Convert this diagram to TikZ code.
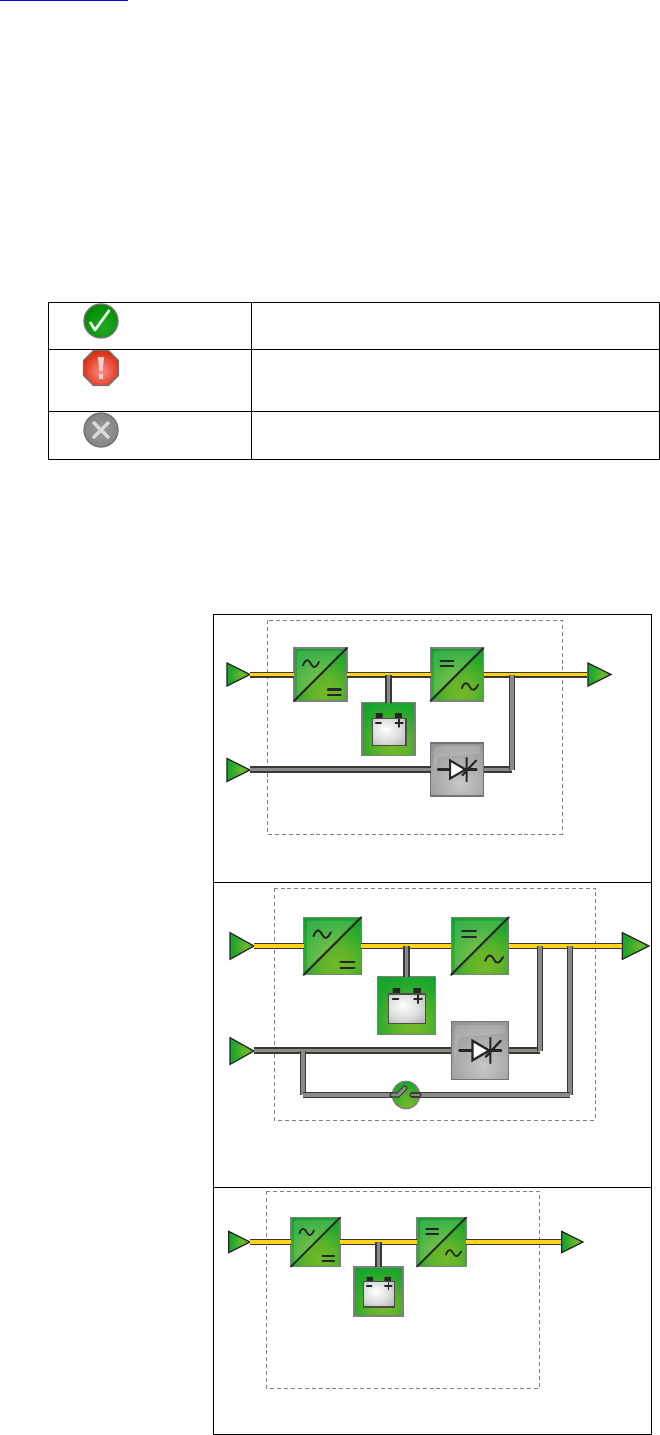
\documentclass[tikz,border=0pt]{standalone}
\usetikzlibrary{shapes.geometric}
\definecolor{bluelink}{HTML}{0000F0}
\definecolor{gdark}{HTML}{0A9A35}
\definecolor{gmid}{HTML}{22A82C}
\definecolor{glime}{HTML}{74B82A}
\definecolor{edgegray}{HTML}{7A827A}
\definecolor{busyellow}{HTML}{FFD21E}
\definecolor{busdark}{HTML}{3A3A32}
\definecolor{busgray}{HTML}{8A8A8A}
\pgfdeclareradialshading{gblock}{\pgfpoint{5bp}{-18bp}}{color(0bp)=(glime); color(14bp)=(glime!75!gmid); color(32bp)=(gmid); color(50bp)=(gdark); color(100bp)=(gdark)}
\pgfdeclareradialshading{gyblock}{\pgfpoint{3bp}{-14bp}}{color(0bp)=(black!22); color(20bp)=(black!32); color(50bp)=(black!48); color(100bp)=(black!48)}
\pgfdeclareradialshading{batt}{\pgfpoint{-6bp}{6bp}}{color(0bp)=(white); color(22bp)=(black!14); color(50bp)=(black!42); color(100bp)=(black!42)}
\pgfdeclareradialshading{gtri}{\pgfpoint{8bp}{0bp}}{color(0bp)=(glime); color(25bp)=(gmid); color(50bp)=(gdark); color(100bp)=(gdark)}
\pgfdeclareradialshading{okicon}{\pgfpoint{4bp}{-10bp}}{color(0bp)=(green!60!black!85!white); color(30bp)=(green!55!black); color(50bp)=(green!35!black); color(100bp)=(green!35!black)}
\pgfdeclareradialshading{stopicon}{\pgfpoint{0bp}{-5bp}}{color(0bp)=(red!45!white); color(30bp)=(red!65!orange!85!black); color(50bp)=(red!45!black); color(100bp)=(red!45!black)}
\pgfdeclareradialshading{xicon}{\pgfpoint{0bp}{0bp}}{color(0bp)=(black!40); color(32bp)=(black!50); color(50bp)=(black!75); color(100bp)=(black!75)}
\tikzset{
  x=0.75pt,y=-0.75pt,
  frame/.style={draw=black,line width=0.75pt,fill=none},
  dashbox/.style={draw=black!50,line width=0.6pt,dash pattern=on 3pt off 2.2pt},
  grn/.style={draw=edgegray,line width=1pt,shading=gblock,inner sep=0pt,outer sep=0pt},
  gry/.style={draw=black!55,line width=1pt,shading=gyblock,inner sep=0pt,outer sep=0pt},
  tri/.style={shape=isosceles triangle,isosceles triangle stretches,draw=black!85,line width=0.9pt,shading=gtri,inner sep=0pt,outer sep=0pt,anchor=apex},
  ybus/.style={draw=busdark,line width=0.8pt,double=busyellow,double distance=2.9pt},
  gbus/.style={draw=busdark,line width=1pt,double=busgray,double distance=2.6pt},
  glyph/.style={draw=black!85,line width=#1,line cap=round},
  glyph/.default=1pt,
  icon/.style={circle,minimum size=25.5pt,inner sep=0pt,draw=black!55,line width=1pt},
}
% #1 name, #2 x, #3 y, #4 size, #5 1=AC-in 2=DC-in
\newcommand{\conv}[5]{%
  \node[grn,minimum size=#4*0.75pt] (#1) at (#2,#3) {};
  \begin{scope}[shift={(#1.center)},x=#4*0.0075pt,y=-#4*0.0075pt]
    \draw[draw=none,fill=white,opacity=.14] (-44,40) -- (-44,-38) .. controls (-44,-44) .. (-38,-44) -- (40,-44) -- cycle;
    \draw[glyph={#4*0.027pt}] (-50,50) -- (50,-50);
    \ifnum#5=1
      \draw[glyph={#4*0.025pt}] (-33,-17) .. controls (-28,-32) and (-22,-28) .. (-18,-20) .. controls (-14,-11) and (-8,-12) .. (-3,-24);
      \draw[glyph={#4*0.033pt}] (14,28) -- (38,28) (14,38) -- (38,38);
    \else
      \draw[glyph={#4*0.033pt}] (-31,-26) -- (-7,-26) (-31,-16) -- (-7,-16);
      \draw[glyph={#4*0.025pt}] (9,26) .. controls (14,12) and (20,15) .. (24,23) .. controls (28,32) and (34,31) .. (40,19);
    \fi
  \end{scope}}
\newcommand{\battery}[4]{%
  \node[grn,minimum size=#4*0.75pt] (#1) at (#2,#3) {};
  \begin{scope}[shift={(#1.center)},x=#4*0.0075pt,y=-#4*0.0075pt]
    \fill[black!85] (-24,-30) rectangle (-11,-20) (12,-30) rectangle (25,-20);
    \node[draw=black!70,line width=0.9pt,shading=batt,minimum width=#4*0.48pt,minimum height=#4*0.385pt,inner sep=0pt,anchor=north west] (#1body) at (-32,-21) {};
    \draw[glyph={#4*0.024pt}] (-24,-11) -- (-14,-11) (13,-11) -- (27,-11) (20,-18) -- (20,-4);
  \end{scope}}
\newcommand{\diode}[4]{%
  \node[gry,minimum size=#4*0.75pt] (#1) at (#2,#3) {};
  \begin{scope}[shift={(#1.center)},x=#4*0.0075pt,y=-#4*0.0075pt]
    \draw[draw=none,fill=white,opacity=.15] (-44,25) -- (-44,-30) .. controls (-44,-44) .. (-28,-44) -- (44,-44) -- (44,-30) -- (-30,-24) .. controls (-38,-22) .. (-44,25);
    \draw[glyph={#4*0.029pt}] (-36,0) -- (37,0);
    \draw[glyph={#4*0.029pt},fill=white] (-13,-17) -- (-13,17) -- (16,0) -- cycle;
    \draw[glyph={#4*0.029pt}] (18,-22) -- (18,22) (10,11) -- (36,-17);
  \end{scope}}
\begin{document}
\begin{tikzpicture}
\useasboundingbox (0,0) rectangle (660,1435);
% link underline
\coordinate (la) at (0,0.6); \coordinate (lb) at (128,0.6);
\draw[bluelink,line width=0.8pt] (la) -- (lb);
% table
\coordinate (ttl) at (48,302); \coordinate (tbr) at (659.5,459);
\coordinate (ta) at (251,302); \coordinate (tb) at (251,459);
\coordinate (r1l) at (48,349); \coordinate (r1r) at (659.5,349);
\coordinate (r2l) at (48,411); \coordinate (r2r) at (659.5,411);
\draw[frame] (ttl) rectangle (tbr);
\draw[frame] (ta) -- (tb) (r1l) -- (r1r) (r2l) -- (r2r);
% status icons
\node[icon,shading=okicon] (iok) at (101,321) {};
\draw[white!90!green,line width=2pt,line join=round] ([shift={(-11,1)}]iok.center) -- ([shift={(-6,9)}]iok.center) -- ([shift={(8.5,-11)}]iok.center);
\node[regular polygon,regular polygon sides=8,minimum size=28.5pt,inner sep=0pt,draw=black!55,line width=1pt,shading=stopicon] (istop) at (101,368) {};
\fill[white!82!red] ([shift={(-3,-11)}]istop.center) -- ([shift={(3,-11)}]istop.center) -- ([shift={(1.6,3)}]istop.center) -- ([shift={(-1.6,3)}]istop.center) -- cycle;
\fill[white!82!red] ([shift={(-2.2,6)}]istop.center) rectangle ([shift={(2.2,11)}]istop.center);
\node[icon,shading=xicon] (ix) at (101,430) {};
\draw[white!85!black,line width=2.6pt] ([shift={(-8,-8)}]ix.center) -- ([shift={(8,8)}]ix.center) ([shift={(-8,8)}]ix.center) -- ([shift={(8,-8)}]ix.center);
% frames
\coordinate (f0) at (213,614); \coordinate (f1) at (651,882); \coordinate (f1l) at (213,882);
\coordinate (f2) at (651,1187); \coordinate (f2l) at (213,1187); \coordinate (f3) at (651,1434);
\draw[frame] (f0) rectangle (f1);
\draw[frame] (f1l) rectangle (f2);
\draw[frame] (f2l) rectangle (f3);
\coordinate (d1a) at (267,620); \coordinate (d1b) at (562,834);
\coordinate (d2a) at (274,888); \coordinate (d2b) at (595,1120);
\coordinate (d3a) at (266,1191); \coordinate (d3b) at (539,1388);
\draw[dashbox] (d1a) rectangle (d1b) (d2a) rectangle (d2b) (d3a) rectangle (d3b);

% ---------- diagram 1
\conv{ac1}{320.5}{674.5}{53}{1}
\conv{ac2}{457}{674.5}{53}{2}
\battery{ab}{388.5}{729}{53}
\diode{ad}{457}{769.5}{53}
\node[tri,minimum width=17.3pt,minimum height=17.3pt] (a1) at (250,674.5) {};
\node[tri,minimum width=17.3pt,minimum height=17.3pt] (a2) at (250,770) {};
\node[tri,minimum width=17.3pt,minimum height=17.3pt] (a3) at (611,674.5) {};
\coordinate (a3w) at (587,674.5);
\coordinate (aj2) at (512,674.5);
\coordinate (aj3) at (512,769.5);
\draw[ybus] (a1.apex) -- (ac1.west);
\draw[ybus] (ac1.east) -- (ac2.west);
\draw[ybus] (ac2.east) -- (a3w);
\draw[gbus] (ab.north |- ac1.east) -- (ab.north);
\draw[gbus] (a2.apex |- ad.west) -- (ad.west);
\draw[gbus] (ad.east) -- (aj3);
\draw[gbus] (aj2) -- (aj3);

% ---------- diagram 2
\conv{bc1}{332.5}{946}{57.5}{1}
\conv{bc2}{480}{946}{57.5}{2}
\battery{bb}{406.5}{1005.5}{57.5}
\diode{bd}{480}{1050.5}{57.5}
\node[tri,minimum width=20pt,minimum height=18pt] (b1) at (254,946) {};
\node[tri,minimum width=20pt,minimum height=18pt] (b2) at (254,1051) {};
\node[tri,minimum width=20pt,minimum height=20pt] (b3) at (649,946) {};
\coordinate (b3w) at (622,946);
\coordinate (bj2) at (540,946);
\coordinate (bj3) at (540,1050.5);
\coordinate (bj4) at (570,946);
\coordinate (bj5) at (570,1095);
\coordinate (bj6) at (303,1050.5);
\coordinate (bj7) at (303,1095);
\draw[ybus] (b1.apex) -- (bc1.west);
\draw[ybus] (bc1.east) -- (bc2.west);
\draw[ybus] (bc2.east) -- (b3w);
\draw[gbus] (bb.north |- bc1.east) -- (bb.north);
\draw[gbus] (b2.apex |- bd.west) -- (bd.west);
\draw[gbus] (bd.east) -- (bj3);
\draw[gbus] (bj2) -- (bj3);
\draw[gbus] (bj4) -- (bj5);
\draw[gbus] (bj6) -- (bj7);
\node[circle,grn,minimum size=20.5pt] (bs) at (406,1095) {};
\draw[gbus] (bj7) -- (bs.west);
\draw[gbus] (bs.east) -- (bj5);
\draw[busdark,line width=3.8pt,line cap=round] ([shift={(-14,0)}]bs.center) -- ([shift={(-8,0)}]bs.center) -- ([shift={(-1,-7)}]bs.center);
\draw[busgray,line width=2.2pt,line cap=round] ([shift={(-14,0)}]bs.center) -- ([shift={(-8,0)}]bs.center) -- ([shift={(-1,-7)}]bs.center);
\draw[busdark,line width=3.8pt,line cap=round] ([shift={(6,0)}]bs.center) -- ([shift={(13,0)}]bs.center);
\draw[busgray,line width=2.2pt,line cap=round] ([shift={(6,0)}]bs.center) -- ([shift={(13,0)}]bs.center);

% ---------- diagram 3
\conv{cc1}{315.5}{1242}{49}{1}
\conv{cc2}{441.5}{1242}{49}{2}
\battery{cb}{378.5}{1291.5}{49}
\node[tri,minimum width=16pt,minimum height=16pt] (c1) at (250,1242) {};
\node[tri,minimum width=16pt,minimum height=16pt] (c3) at (583,1242) {};
\coordinate (c3w) at (561,1242);
\draw[ybus] (c1.apex) -- (cc1.west);
\draw[ybus] (cc1.east) -- (cc2.west);
\draw[ybus] (cc2.east) -- (c3w);
\draw[gbus] (cb.north |- cc1.east) -- (cb.north);
\end{tikzpicture}
\end{document}
